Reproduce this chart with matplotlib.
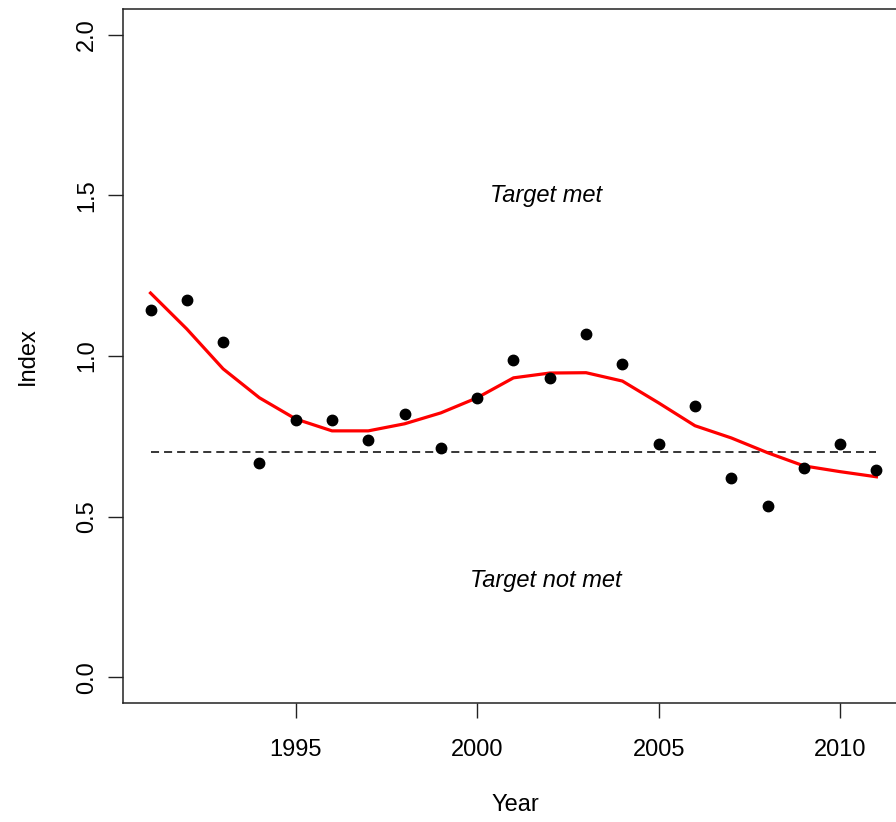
import matplotlib
matplotlib.use("Agg")
import matplotlib.pyplot as plt

plt.rcParams['font.family'] = ['Liberation Sans', 'DejaVu Sans']
plt.rcParams['lines.scale_dashes'] = False

# observed index per year
years = [1991, 1992, 1993, 1994, 1995, 1996, 1997, 1998, 1999, 2000,
         2001, 2002, 2003, 2004, 2005, 2006, 2007, 2008, 2009, 2010, 2011]
index = [1.143, 1.174, 1.043, 0.668, 0.801, 0.801, 0.739, 0.820, 0.714, 0.870,
         0.988, 0.932, 1.068, 0.975, 0.727, 0.845, 0.621, 0.534, 0.652, 0.727, 0.646]

# smoothed trend
smooth = [1.196, 1.084, 0.960, 0.870, 0.804, 0.767, 0.767, 0.789, 0.823, 0.870,
          0.932, 0.947, 0.948, 0.922, 0.854, 0.783, 0.745, 0.699, 0.658, 0.640, 0.624]

target = 0.7

fig = plt.figure(figsize=(8.96, 8.22), dpi=100)
ax = fig.add_axes([123.3 / 896, 119 / 822, 784 / 896, 694 / 822])

ax.plot(years, smooth, color='red', lw=2.3, zorder=2)
ax.plot(years, index, 'o', color='black', ms=7.5, zorder=3)
ax.plot([years[0], years[-1]], [target, target], color='black', lw=1.1,
        dashes=(5.8, 3.6), zorder=1)

ax.text(2001.9, 1.5, 'Target met', style='italic', fontsize=17, ha='center', va='center')
ax.text(2001.9, 0.3, 'Target not met', style='italic', fontsize=17, ha='center', va='center')

ax.set_xlim(1990.25, 2011.85)
ax.set_ylim(-0.08, 2.08)
ax.set_xticks([1995, 2000, 2005, 2010])
ax.set_yticks([0.0, 0.5, 1.0, 1.5, 2.0])
ax.set_yticklabels(['0.0', '0.5', '1.0', '1.5', '2.0'], rotation=90, va='center')
ax.tick_params(length=11, width=1.0, labelsize=17, color='#222222', pad=15)
ax.tick_params(axis='y', pad=7)
ax.set_xlabel('Year', fontsize=17, labelpad=24)
ax.set_ylabel('Index', fontsize=17, labelpad=27)
for s in ax.spines.values():
    s.set_linewidth(1.1)
    s.set_color('#222222')

fig.savefig('out.png', dpi=100)
